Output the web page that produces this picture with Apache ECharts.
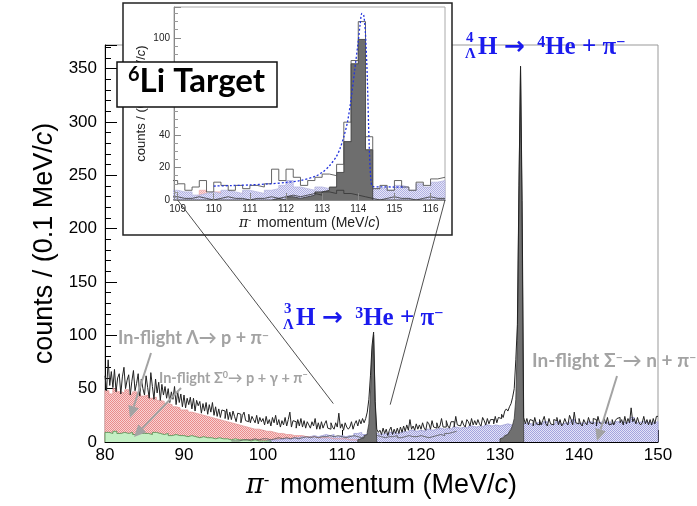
<!DOCTYPE html>
<html><head><meta charset="utf-8">
<script src="https://cdn.jsdelivr.net/npm/echarts@6/dist/echarts.min.js"></script>
<style>html,body{margin:0;padding:0;background:#fff}#c{width:697px;height:506px}</style>
</head><body><div id="c"></div>
<script>
// ---------------- DATA ----------------
// main spectrum, 0.2 MeV/c bins starting at 80 MeV/c
const mainStart = 80, mainBin = 0.2;
const totalCounts = [
 62,48,77,53,66, 51,68,47,60,64, 45,61,70,50,58, 63,44,57,67,48, 55,64,43,59,50,
 44,62,51,41,65, 52,40,59,46,56, 39,54,44,52,41, 50,37,47,40,52, 35,47,37,45,33,
 44,32,41,35,42, 31,41,29,39,34, 38,27,36,29,37, 26,35,28,37,25, 33,24,31,23,30,
 29,22,31,21,28, 21,29,24,19,27, 26,18,25,28,20, 19,26,18,24,21, 18,25,17,23,19,
 22,16,24,17,21, 15,23,18,25,16, 21,14,20,16,23, 15,21,28,14,20, 19,13,21,15,22,
 14,20,13,19,16, 13,19,15,22,12, 18,12,19,13,17, 20,13,12,18,14, 12,18,14,27,13,
 17,11,18,14,12, 14,19,12,17,20, 15,21,17,22,18, 22,28,40,62,90, 103,38,12,9,11,
 7,13,8,12,6, 11,14,7,12,8, 13,8,14,9,15, 10,16,11,21,12, 15,11,17,12,16,
 12,18,13,11,19, 17,12,20,14,13, 18,13,15,22,14, 14,20,15,13,19, 19,14,24,16,15,
 15,20,16,14,21, 19,15,22,16,20, 16,21,17,15,23, 20,16,22,17,21, 21,17,24,18,23,
 22,26,23,29,31, 29,33,36,42,50, 77,110,240,352,226, 23,17,22,16,21, 20,15,23,17,16,
 21,16,20,24,17, 15,22,17,16,21, 20,23,16,21,15, 17,22,18,16,25, 21,16,28,18,17,
 22,17,15,21,18, 16,23,18,17,22, 21,15,24,18,17, 18,22,17,23,16, 17,21,16,20,22,
 23,18,21,16,24, 17,22,18,32,19, 22,17,23,18,16, 18,24,17,21,16, 21,16,22,17,24
];
// signal peaks (dark grey), 0.2 MeV/c bins
const peak3HStart = 112.0;
const peak3HCounts = [2,3,3,4,6,7,9,17,45,84,100,36];
const peak4HStart = 130.0;
const peak4HCounts = [3,4,5,6,7,8,10,12,16,22,40,95,236,352,200];
// backgrounds, 0.5 MeV/c bins
const bgBin = 0.5;
const lambdaStart = 80.0;
const lambdaCounts = [48,45,50,47,46,49,45,47,45,43,44,41,42,39,38,36,35,33,32,30,
 30,28,27,26,25,24,23,22,21,20,19,18,17,16,15,14,13,12,12,11,10,10,9,8,8,7,7,6,6,6,
 5,5,5,4,4,4,4,3,3,3,3,2,2,2,2,1,1];
const sigma0Start = 80.0;
const sigma0Counts = [9,8,10,8,9,8,9,7,10,8,8,7,9,8,7,8,6,7,6,6,5,6,5,4,5,4,4,3,4,3,
 3,2,3,2,2,2,1,2,1,1,1,1];
const sigmaMStart = 100.0;
const sigmaMCounts = [1,2,2,2,3,3,3,4,4,5,4,5,6,5,6,7,6,7,5,6,5,6,5,8,9,7,8,8,8,7,
 8,7,9,8,9,10,9,11,10,11,10,12,11,12,13,12,13,12,14,13,14,13,15,14,15,14,16,15,16,15,
 16,17,16,17,16,17,18,17,16,18,17,19,16,17,19,17,18,19,21,17,18,17,19,18,18,19,18,19,17,19,
 19,18,19,23,18,19,19,18,18,19];
const otherStart = 96.0;
const otherCounts = [1,1,2,2,2,3,2,3,3,2,3,4,3,4,3,4,3,4,5,4,5,4,5,5,6,5,6,5,4,5,
 6,5,4,5,4,5,6,5,4,5,5,6,4,5,6,5,5,6,5,4,5,6,7,6,8,9,10];

// inset, 0.2 MeV/c bins starting at 108.8
const insetStart = 108.8, insetBin = 0.2;
const insetTotal = [12,10,6,8,12,5,11,9,6,9,7,9,8,10,19,12,19,14,9,12,14,16,15,22,48,86,110,39,7,9,6,12,8,6,11,9,13,14];
const insetPeak  = [0,0,0,0,0,0,0,0,0,0,0,0,0,0,1,0,2,1,2,3,5,6,8,17,36,84,99,31,0,0,0,0,0,0,0,0,0,0];
const insetSigmaM = [6,5,5,3,4,5,4,6,5,4,6,5,4,6,7,9,12,8,7,6,8,7,8,9,9,8,7,9,7,8,6,9,8,6,10,8,11,12];
const insetLambda = [3,2,2,3,6,3,5,4,3,3,5,2,2,1,1,1,1,0,0,0,0,0,0,0,0,0,0,0,0,0,0,0,0,0,0,0,0,0];
const insetOther  = [2,1,1,2,1,0,1,2,1,1,0,1,1,2,1,2,3,2,3,4,3,5,4,6,4,3,2,1,0,1,2,1,1,0,1,2,1,1];
// fit curve (blue dotted)
const fitX = [110.0,110.5,111.0,111.5,112.0,112.4,112.8,113.0,113.2,113.4,113.5,113.6,113.7,113.8,113.9,114.0,114.05,114.1,114.15,114.2,114.25,114.3,114.35,114.4,114.6,115.0,115.3];
const fitY = [8.6,8.9,9.3,9.9,10.8,12.0,14.5,17,21,27,32,39,48,62,80,98,108,115,114,102,75,35,12,8.3,8.1,8.0,7.9];

const insetXTicks = [109,110,111,112,113,114,115,116];

// ---------------- HELPERS ----------------
function hist(start, width, vals, closeEnds) {
  const d = [];
  if (closeEnds) d.push([start, 0]);
  vals.forEach((v, i) => d.push([+(start + i * width).toFixed(4), v]));
  const end = +(start + vals.length * width).toFixed(4);
  d.push([end, vals[vals.length - 1]]);
  if (closeEnds) d.push([end, 0]);
  return d;
}
function pattern(bg, fg) {
  const c = document.createElement('canvas');
  c.width = 4; c.height = 4;
  const g = c.getContext('2d');
  g.fillStyle = bg; g.fillRect(0, 0, 4, 4);
  g.fillStyle = fg;
  for (let i = 0; i < 4; i++) for (let j = 0; j < 4; j++) if ((i + j) % 2 === 0) g.fillRect(i, j, 1, 1);
  return { image: c, repeat: 'repeat' };
}
const pinkPat = pattern('#f9d3d3', '#e98c8c');
const bluePat = pattern('#e4e4f8', '#a4a4de');
const pinkPat2 = pattern('#fbdede', '#f0aaaa');
const bluePat2 = pattern('#e6e6f8', '#b0b0e2');

function hs(name, data, idx, color, width, fill, z) {
  const s = {
    type: 'line', name, xAxisIndex: idx, yAxisIndex: idx, data, step: 'end',
    symbol: 'none', silent: true, animation: false, z,
    lineStyle: { color, width }
  };
  if (fill) s.areaStyle = { color: fill, opacity: 1 };
  return s;
}

const axisFont = 'Liberation Sans, Arial, sans-serif';

const series = [
  hs('lambda', hist(lambdaStart, bgBin, lambdaCounts, true), 0, '#e39a9a', 0.8, pinkPat, 2),
  hs('sigmaM', hist(sigmaMStart, bgBin, sigmaMCounts, true), 0, '#a0a0d6', 0.8, bluePat, 2),
  hs('sigma0', hist(sigma0Start, bgBin, sigma0Counts, true), 0, '#4f8f4f', 0.8, '#c4efc4', 3),
  hs('other', hist(otherStart, bgBin, otherCounts, false), 0, '#555', 0.8, null, 3),
  hs('peak3H', hist(peak3HStart, mainBin, peak3HCounts, true), 0, '#3a3a3a', 0.8, '#707070', 4),
  hs('peak4H', hist(peak4HStart, mainBin, peak4HCounts, true), 0, '#3a3a3a', 0.8, '#707070', 4),
  hs('total', hist(mainStart, mainBin, totalCounts, false), 0, '#222', 1, null, 5),

  hs('iLambda', hist(insetStart, insetBin, insetLambda, true), 1, '#f0b0b0', 0.8, pinkPat2, 21),
  hs('iSigmaM', hist(insetStart, insetBin, insetSigmaM, true), 1, '#b8b8e0', 0.8, bluePat2, 22),
  hs('iPeak', hist(insetStart, insetBin, insetPeak, false), 1, '#333', 0.8, '#6e6e6e', 23),
  hs('iOther', hist(insetStart, insetBin, insetOther, false), 1, '#333', 0.8, null, 24),
  hs('iTotal', hist(insetStart, insetBin, insetTotal, false), 1, '#555', 0.9, null, 25),
  { type: 'line', name: 'fit', xAxisIndex: 1, yAxisIndex: 1, symbol: 'none', silent: true,
    animation: false, z: 26, smooth: 0.3,
    data: fitX.map((x, i) => [x, fitY[i]]),
    lineStyle: { color: '#2233dd', width: 1.3, type: [2, 2] } }
];

const option = {
  animation: false,
  backgroundColor: '#fff',
  grid: [
    { left: 105, top: 45, width: 553, height: 397, show: true, borderColor: '#999', borderWidth: 1, z: 0 },
    { left: 174, top: 7, width: 271, height: 193, show: true, borderColor: '#aaa', borderWidth: 1, z: 20 }
  ],
  xAxis: [
    { type: 'value', gridIndex: 0, min: 80, max: 150, interval: 10, z: 1,
      axisLine: { show: true, lineStyle: { color: '#000', width: 1 } },
      axisTick: { show: true, inside: true, length: 12, lineStyle: { color: '#000' } },
      minorTick: { show: true, splitNumber: 5, length: 6, lineStyle: { color: '#000' } },
      splitLine: { show: false },
      axisLabel: { fontFamily: axisFont, fontSize: 17, color: '#000', margin: 5 },
      name: '{pi|π}{sup|-} momentum (MeV/{it|c})', nameLocation: 'middle', nameGap: 30,
      nameTextStyle: { fontFamily: axisFont, fontSize: 27, color: '#000',
        rich: { pi: { fontFamily: 'DejaVu Serif', fontStyle: 'italic', fontSize: 27 },
                sup: { fontSize: 17, verticalAlign: 'top', padding: [0, 3, 0, 0] },
                it: { fontStyle: 'italic', fontSize: 27, fontFamily: axisFont } } } },
    { type: 'value', gridIndex: 1, min: 108.9, max: 116.4, z: 30,
      axisLine: { show: true, lineStyle: { color: '#888', width: 1 } },
      axisTick: { show: true, inside: true, length: 7, customValues: insetXTicks, lineStyle: { color: '#888' } },
      splitLine: { show: false },
      axisLabel: { fontFamily: axisFont, fontSize: 10, color: '#222', margin: 4, customValues: insetXTicks },
      name: '{pi|π}{sup|-} momentum (MeV/{it|c})', nameLocation: 'middle', nameGap: 16,
      nameTextStyle: { fontFamily: axisFont, fontSize: 14, color: '#222',
        rich: { pi: { fontFamily: 'DejaVu Serif', fontStyle: 'italic', fontSize: 14 },
                sup: { fontSize: 9, verticalAlign: 'top', padding: [0, 2, 0, 0] },
                it: { fontStyle: 'italic', fontSize: 14, fontFamily: axisFont } } } }
  ],
  yAxis: [
    { type: 'value', gridIndex: 0, min: 0, max: 372, interval: 50, z: 1,
      axisLine: { show: true, lineStyle: { color: '#000', width: 1 } },
      axisTick: { show: true, inside: true, length: 12, lineStyle: { color: '#000' } },
      minorTick: { show: true, splitNumber: 5, length: 6, lineStyle: { color: '#000' } },
      splitLine: { show: false },
      axisLabel: { fontFamily: axisFont, fontSize: 17, color: '#000', margin: 8, showMaxLabel: false },
      name: 'counts / (0.1 MeV/{it|c})', nameLocation: 'middle', nameGap: 47,
      nameTextStyle: { fontFamily: axisFont, fontSize: 27, color: '#000',
        rich: { it: { fontStyle: 'italic', fontSize: 27, fontFamily: axisFont } } } },
    { type: 'value', gridIndex: 1, min: 0, max: 119, interval: 20, z: 30,
      axisLine: { show: true, lineStyle: { color: '#888', width: 1 } },
      axisTick: { show: true, inside: true, length: 7, lineStyle: { color: '#888' } },
      minorTick: { show: true, splitNumber: 4, length: 4, lineStyle: { color: '#999' } },
      splitLine: { show: false },
      axisLabel: { fontFamily: axisFont, fontSize: 10, color: '#222', margin: 4, showMaxLabel: false },
      name: 'counts / (0.1 MeV/{it|c})', nameLocation: 'middle', nameGap: 26,
      nameTextStyle: { fontFamily: axisFont, fontSize: 13, color: '#222',
        rich: { it: { fontStyle: 'italic', fontSize: 13, fontFamily: axisFont } } } }
  ],
  series
};

const chart = echarts.init(document.getElementById('c'), null, { renderer: 'canvas' });
chart.setOption(option);

// ---------------- ANNOTATIONS ----------------
const blue = '#1a1aee', grey = '#a3a3a3';
const serif = 'Liberation Serif, DejaVu Serif, serif';
const calib = 'Lato, Open Sans, sans-serif';
function arrow(x1, y1, x2, y2, color, w) {
  const dx = x2 - x1, dy = y2 - y1, L = Math.hypot(dx, dy), ux = dx / L, uy = dy / L;
  const hl = 12, hw = 5.5;
  const bx = x2 - ux * hl, by = y2 - uy * hl;
  return [
    { type: 'line', z: 60, shape: { x1, y1, x2: bx, y2: by }, style: { stroke: color, lineWidth: w } },
    { type: 'polygon', z: 60, shape: { points: [[x2, y2], [bx - uy * hw, by + ux * hw], [bx + uy * hw, by - ux * hw]] }, style: { fill: color } }
  ];
}
const p1a = chart.convertToPixel({ gridIndex: 1 }, [109, 0]);
const p1b = chart.convertToPixel({ gridIndex: 0 }, [108.9, 36]);
const p2a = chart.convertToPixel({ gridIndex: 1 }, [116.4, 0]);
const p2b = chart.convertToPixel({ gridIndex: 0 }, [116.1, 35]);

const richBlue = {
  b: { fontFamily: serif, fontWeight: 'bold', fontSize: 25, fill: blue },
  ar: { fontFamily: 'DejaVu Sans', fontWeight: 'bold', fontSize: 25, fill: blue },
  sup: { fontFamily: serif, fontWeight: 'bold', fontSize: 16, fill: blue, verticalAlign: 'top' }
};
const richGrey = (fs) => ({
  b: { fontFamily: calib, fontWeight: 'bold', fontSize: fs, fill: grey },
  sup: { fontFamily: calib, fontWeight: 'bold', fontSize: Math.round(fs * 0.65), fill: grey, verticalAlign: 'top' }
});

const elements = [
  { type: 'rect', z: 15, shape: { x: 123, y: 3, width: 329, height: 232 }, style: { fill: '#fff', stroke: '#222', lineWidth: 1.5 } },
  { type: 'line', z: 60, shape: { x1: p1a[0], y1: p1a[1], x2: p1b[0], y2: p1b[1] }, style: { stroke: '#222', lineWidth: 0.8 } },
  { type: 'line', z: 60, shape: { x1: p2a[0], y1: p2a[1], x2: p2b[0], y2: p2b[1] }, style: { stroke: '#222', lineWidth: 0.8 } },
  { type: 'rect', z: 70, shape: { x: 117, y: 62, width: 160, height: 45 }, style: { fill: '#fff', stroke: '#111', lineWidth: 1.5 } },
  { type: 'text', z: 71, x: 128, y: 65, style: { text: '{sup|6}{b|Li Target}', rich: {
      b: { fontFamily: calib, fontWeight: 'bold', fontSize: 33, fill: '#000' },
      sup: { fontFamily: calib, fontWeight: 'bold', fontSize: 20, fill: '#000', verticalAlign: 'top' } } } },
  // 4LH label
  { type: 'text', z: 60, x: 466, y: 31, style: { text: '4', fontFamily: serif, fontWeight: 'bold', fontSize: 15, fill: blue } },
  { type: 'text', z: 60, x: 465, y: 47, style: { text: 'Λ', fontFamily: serif, fontWeight: 'bold', fontSize: 15, fill: blue } },
  { type: 'text', z: 60, x: 478, y: 35, style: { text: '{b|H }{ar|→}{b|  }{sup|4}{b|He + π}{sup|−}', rich: richBlue } },
  // 3LH label
  { type: 'text', z: 60, x: 284, y: 302, style: { text: '3', fontFamily: serif, fontWeight: 'bold', fontSize: 15, fill: blue } },
  { type: 'text', z: 60, x: 283, y: 318, style: { text: 'Λ', fontFamily: serif, fontWeight: 'bold', fontSize: 15, fill: blue } },
  { type: 'text', z: 60, x: 296, y: 306, style: { text: '{b|H }{ar|→}{b|  }{sup|3}{b|He + π}{sup|−}', rich: richBlue } },
  // grey labels
  { type: 'text', z: 60, x: 118, y: 329, style: { text: '{b|In-flight Λ→ p + π}{sup|−}', rich: richGrey(18) } },
  { type: 'text', z: 60, x: 159, y: 371, style: { text: '{b|In-flight Σ}{sup|0}{b|→ p + γ + π}{sup|−}', rich: richGrey(14.5) } },
  { type: 'text', z: 60, x: 532, y: 351, style: { text: '{b|In-flight Σ}{sup|−}{b|→ n + π}{sup|−}', rich: richGrey(19) } }
].concat(
  arrow(151, 353, 130, 418, grey, 2),
  arrow(181, 388, 134, 437, grey, 2),
  arrow(617, 376, 597, 441, grey, 2)
);
chart.setOption({ graphic: { elements } });
</script>
</body></html>
